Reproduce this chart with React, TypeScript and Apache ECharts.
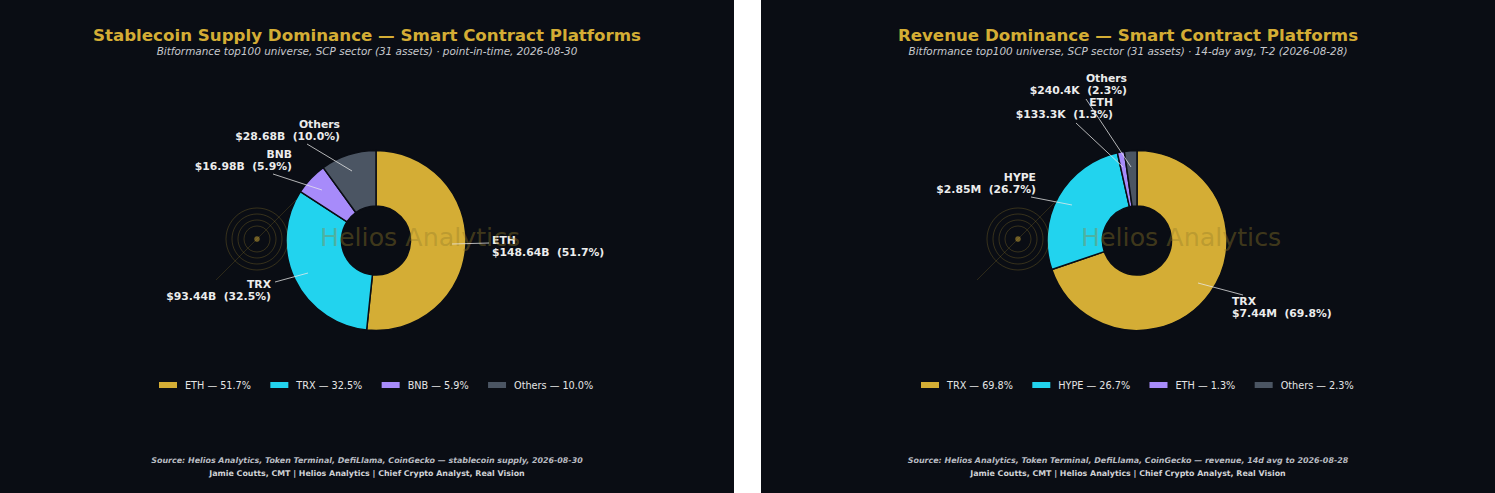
import React, { useEffect, useRef } from "react";
import * as echarts from "echarts";

const GOLD = "#d4ad35";
const BG = "#0a0d14";

const supplyNames = ["ETH", "TRX", "BNB", "Others"];
const supplyValues = [148.64, 93.44, 16.98, 28.68];
const supplyAmounts = ["$148.64B", "$93.44B", "$16.98B", "$28.68B"];
const supplyShares = ["51.7%", "32.5%", "5.9%", "10.0%"];
const supplyColors = [GOLD, "#22d3ee", "#a78bfa", "#4b5563"];

const revenueNames = ["TRX", "HYPE", "ETH", "Others"];
const revenueValues = [7440000, 2850000, 133300, 240400];
const revenueAmounts = ["$7.44M", "$2.85M", "$133.3K", "$240.4K"];
const revenueShares = ["69.8%", "26.7%", "1.3%", "2.3%"];
const revenueColors = [GOLD, "#22d3ee", "#a78bfa", "#4b5563"];

const supplyLabelLayout = [
  { x: 492, y: 246.5, align: "left", from: [489, 243], to: [452, 244] },
  { x: 271, y: 290.5, align: "right", from: [275, 282], to: [308, 273] },
  { x: 292, y: 160.5, align: "right", from: [273, 174], to: [322, 190] },
  { x: 340, y: 130.5, align: "right", from: [307, 144], to: [352, 171] },
];
const revenueLabelLayout = [
  { x: 1232, y: 307.5, align: "left", from: [1243, 295], to: [1198, 283] },
  { x: 1036, y: 183.5, align: "right", from: [1031, 197], to: [1072, 205] },
  { x: 1113, y: 108.5, align: "right", from: [1076, 123], to: [1123, 167] },
  { x: 1127, y: 84.5, align: "right", from: [1086, 99], to: [1131, 167] },
];

const FONT = "DejaVu Sans";

function pie(name, cx, names, values, amounts, shares, colors, layout) {
  return {
    type: "pie",
    name,
    center: [cx, 240.5],
    radius: [34.5, 90],
    startAngle: 90,
    clockwise: true,
    avoidLabelOverlap: false,
    silent: true,
    itemStyle: { borderColor: BG, borderWidth: 1.5 },
    label: {
      show: true,
      position: "outside",
      color: "#ececec",
      fontFamily: FONT,
      fontWeight: "bold",
      fontSize: 10.8,
      lineHeight: 12,
    },
    labelLine: { show: false },
    labelLayout: (p) => {
      const l = layout[p.dataIndex];
      return { x: l.x, y: l.y, align: l.align, verticalAlign: "middle" };
    },
    data: names.map((n, i) => ({
      name: `${n} — ${shares[i]}`,
      value: values[i],
      itemStyle: { color: colors[i] },
      label: {
        formatter: `${n}\n${amounts[i]}  (${shares[i]})`,
        align: layout[i].align,
      },
    })),
  };
}

function leaders(layout) {
  return layout.map((l) => ({
    type: "line",
    z: 11,
    silent: true,
    shape: { x1: l.from[0], y1: l.from[1], x2: l.to[0], y2: l.to[1] },
    style: { stroke: "rgba(232,232,232,0.85)", lineWidth: 0.9 },
  }));
}

function legend(left, names, shares) {
  return {
    left,
    top: 380,
    orient: "horizontal",
    itemWidth: 18,
    itemHeight: 6,
    itemGap: 19.4,
    icon: "rect",
    selectedMode: false,
    padding: 0,
    itemStyle: { borderWidth: 0 },
    textStyle: { color: "#e5e5e5", fontFamily: FONT, fontSize: 9.7, padding: [0, 0, 0, 3] },
    data: names.map((n, i) => `${n} — ${shares[i]}`),
  };
}

function watermark(cx, textX) {
  const stroke = "rgba(212,173,53,0.25)";
  const rings = [13, 19, 25, 31].map((r) => ({
    type: "circle",
    z: 10,
    silent: true,
    shape: { cx, cy: 239, r },
    style: { fill: "none", stroke, lineWidth: 0.9 },
  }));
  return [
    ...rings,
    { type: "circle", z: 10, silent: true, shape: { cx, cy: 239, r: 2.8 }, style: { fill: "rgba(212,173,53,0.5)" } },
    {
      type: "line",
      z: 10,
      silent: true,
      shape: { x1: cx - 41, y1: 280, x2: cx + 39, y2: 200 },
      style: { stroke: "rgba(212,173,53,0.2)", lineWidth: 0.9 },
    },
    {
      type: "text",
      z: 10,
      silent: true,
      x: textX,
      y: 237,
      style: {
        text: "Helios Analytics",
        fontFamily: FONT,
        fontSize: 25.3,
        fill: "rgba(150,125,40,0.4)",
        textAlign: "left",
        textVerticalAlign: "middle",
      },
    },
  ];
}

function heading(x, title, sub, source, author) {
  const t = (text, y, font, fill, fontSize) => ({
    type: "text",
    z: 12,
    silent: true,
    x,
    y,
    style: {
      text,
      fontFamily: FONT,
      fontSize,
      fontWeight: font.includes("b") ? "bold" : "normal",
      fontStyle: font.includes("i") ? "italic" : "normal",
      fill,
      textAlign: "center",
      textVerticalAlign: "middle",
    },
  });
  return [
    t(title, 35, "b", GOLD, 16.67),
    t(sub, 51, "i", "#c6c8cc", 10.45),
    t(source, 460, "bi", "#b9bcc2", 7.93),
    t(author, 473, "b", "#d0d2d6", 7.9),
  ];
}

export default function App() {
  const ref = useRef<HTMLDivElement>(null);
  useEffect(() => {
    const chart = echarts.init(ref.current, null, { renderer: "svg" });
    chart.setOption({
      animation: false,
      backgroundColor: "#ffffff",
      legend: [legend(159, supplyNames, supplyShares), legend(921, revenueNames, revenueShares)],
      series: [
        pie("Stablecoin Supply", 376, supplyNames, supplyValues, supplyAmounts, supplyShares, supplyColors, supplyLabelLayout),
        pie("Revenue", 1137, revenueNames, revenueValues, revenueAmounts, revenueShares, revenueColors, revenueLabelLayout),
      ],
      graphic: [
        { type: "rect", z: -1, silent: true, shape: { x: 0, y: 0, width: 734, height: 493 }, style: { fill: BG } },
        { type: "rect", z: -1, silent: true, shape: { x: 761, y: 0, width: 734, height: 493 }, style: { fill: BG } },
        ...watermark(257, 320),
        ...watermark(1018, 1081),
        ...leaders(supplyLabelLayout),
        ...leaders(revenueLabelLayout),
        ...heading(
          367,
          "Stablecoin Supply Dominance — Smart Contract Platforms",
          "Bitformance top100 universe, SCP sector (31 assets) · point-in-time, 2026-08-30",
          "Source: Helios Analytics, Token Terminal, DefiLlama, CoinGecko — stablecoin supply, 2026-08-30",
          "Jamie Coutts, CMT | Helios Analytics | Chief Crypto Analyst, Real Vision"
        ),
        ...heading(
          1128,
          "Revenue Dominance — Smart Contract Platforms",
          "Bitformance top100 universe, SCP sector (31 assets) · 14-day avg, T-2 (2026-08-28)",
          "Source: Helios Analytics, Token Terminal, DefiLlama, CoinGecko — revenue, 14d avg to 2026-08-28",
          "Jamie Coutts, CMT | Helios Analytics | Chief Crypto Analyst, Real Vision"
        ),
      ],
    });
    return () => chart.dispose();
  }, []);
  return <div ref={ref} style={{ position: "fixed", left: 0, top: 0, width: 1495, height: 493 }} />;
}
